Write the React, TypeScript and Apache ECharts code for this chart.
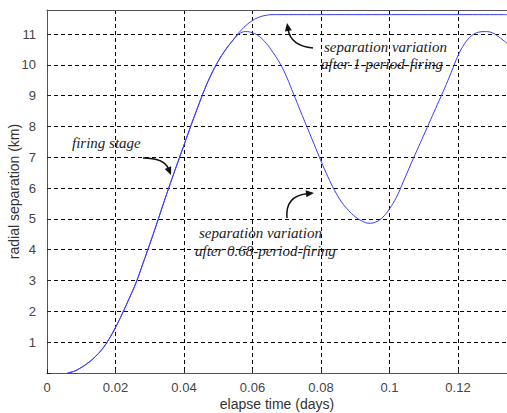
import React, { useEffect, useRef } from "react";
import * as echarts from "echarts";

// shared firing-stage rise (both curves)
const riseX = [0.006, 0.008, 0.01, 0.012, 0.014, 0.016, 0.018, 0.02, 0.022, 0.024, 0.026, 0.028, 0.03, 0.032, 0.034, 0.036, 0.038, 0.04, 0.042, 0.044, 0.046, 0.048, 0.05, 0.052, 0.054];
const riseY = [0, 0.06, 0.18, 0.33, 0.52, 0.76, 1.08, 1.48, 1.93, 2.42, 2.93, 3.55, 4.18, 4.83, 5.5, 6.15, 6.78, 7.4, 8.02, 8.62, 9.2, 9.7, 10.12, 10.47, 10.76];

// after 1-period firing
const fullX = [0.056, 0.058, 0.06, 0.062, 0.064, 0.066, 0.068, 0.1343];
const fullY = [11.04, 11.27, 11.44, 11.55, 11.61, 11.63, 11.63, 11.63];

// after 0.68-period firing
const partX = [0.056, 0.058, 0.06, 0.062, 0.064, 0.066, 0.068, 0.07, 0.072, 0.074, 0.076, 0.078, 0.08, 0.082, 0.084, 0.086, 0.088, 0.09, 0.092, 0.094, 0.096, 0.098, 0.1, 0.102, 0.104, 0.106, 0.108, 0.11, 0.112, 0.114, 0.116, 0.118, 0.12, 0.122, 0.124, 0.126, 0.128, 0.13, 0.132, 0.1343];
const partY = [11.0, 11.08, 11.04, 10.92, 10.7, 10.4, 10.05, 9.6, 9.05, 8.5, 7.96, 7.42, 6.88, 6.37, 5.92, 5.55, 5.28, 5.07, 4.93, 4.86, 4.9, 5.05, 5.33, 5.7, 6.2, 6.72, 7.22, 7.72, 8.22, 8.72, 9.22, 9.75, 10.3, 10.7, 10.95, 11.06, 11.08, 11.04, 10.9, 10.7];

const xMin = 0;
const xMax = 0.1343;
const xStep = 0.02;
const yMin = 0;
const yMax = 11.78;
const yStep = 1;

const annotations = [
  { text: "firing stage", x: 72, y: 143 },
  { text: "separation variation", x: 324, y: 47 },
  { text: "after 1-period-firing", x: 321, y: 64 },
  { text: "separation variation", x: 199, y: 233 },
  { text: "after 0.68-period-firing", x: 195, y: 251 },
];

function zip(xs: number[], ys: number[]) {
  return xs.map((x, i) => [x, ys[i]]);
}

function arrow(tail: number[], cp: number[], tip: number[]) {
  const dx = tip[0] - cp[0];
  const dy = tip[1] - cp[1];
  const len = Math.sqrt(dx * dx + dy * dy) || 1;
  const ux = dx / len;
  const uy = dy / len;
  const L = 8;
  const W = 3.5;
  const bx = tip[0] - ux * L;
  const by = tip[1] - uy * L;
  return [
    {
      type: "bezierCurve",
      shape: { x1: tail[0], y1: tail[1], cpx1: cp[0], cpy1: cp[1], x2: bx + ux * 1, y2: by + uy * 1 },
      style: { stroke: "#111", lineWidth: 1.5, fill: null },
      silent: true,
    },
    {
      type: "polygon",
      shape: {
        points: [
          [tip[0], tip[1]],
          [bx - uy * W, by + ux * W],
          [bx + uy * W, by - ux * W],
        ],
      },
      style: { fill: "#111" },
      silent: true,
    },
  ];
}

export default function App() {
  const ref = useRef<HTMLDivElement>(null);
  useEffect(() => {
    if (!ref.current) return;
    const chart = echarts.init(ref.current, undefined, { renderer: "svg" });
    const fmtX = (v: number) => {
      const k = Math.round(v / xStep);
      if (Math.abs(v - k * xStep) > 1e-6) return "";
      return String(parseFloat((k * xStep).toFixed(2)));
    };
    const fmtY = (v: number) => {
      const k = Math.round(v);
      if (Math.abs(v - k) > 1e-6 || k < 1) return "";
      return String(k);
    };
    const graphics: any[] = [];
    annotations.forEach((a) => {
      graphics.push({
        type: "text",
        x: a.x,
        y: a.y,
        silent: true,
        style: {
          text: a.text,
          fill: "#222",
          font: 'italic 15px "Liberation Serif"',
          fontStyle: "italic",
          fontSize: 15,
          fontFamily: "Liberation Serif",
          textAlign: "left",
          textVerticalAlign: "middle",
          align: "left",
          verticalAlign: "middle",
        },
      });
    });
    graphics.push(...arrow([143, 158], [164, 158], [171, 175]));
    graphics.push(...arrow([313, 48], [291, 46], [287, 23]));
    graphics.push(...arrow([287, 218], [285, 196], [314, 193]));

    chart.setOption({
      animation: false,
      backgroundColor: "#ffffff",
      grid: { left: 47, top: 10, right: 0, bottom: 40, containLabel: false, outerBoundsMode: "none" },
      xAxis: [
        {
          type: "value",
          position: "bottom",
          min: xMin,
          max: xMax,
          interval: xStep,
          name: "elapse time (days)",
          nameLocation: "middle",
          nameGap: 24,
          nameMoveOverlap: false,
          nameTextStyle: { fontSize: 14, color: "#333", fontFamily: "Liberation Sans" },
          axisLine: { show: true, lineStyle: { color: "#555", width: 1 } },
          axisTick: { show: true, inside: true, length: 4, lineStyle: { color: "#222" } },
          axisLabel: { fontSize: 13, color: "#444", margin: 8, fontFamily: "Liberation Sans", formatter: fmtX, showMaxLabel: false },
          splitLine: { show: true, lineStyle: { color: "#000", type: [4, 3], width: 1 } },
        },
        {
          type: "value",
          position: "top",
          min: xMin,
          max: xMax,
          interval: xStep,
          axisLine: { show: true, onZero: false, lineStyle: { color: "#555", width: 1 } },
          axisTick: { show: false },
          axisLabel: { show: false },
          splitLine: { show: false },
        },
      ],
      yAxis: {
        type: "value",
        min: yMin,
        max: yMax,
        interval: yStep,
        name: "radial separation (km)",
        nameLocation: "middle",
        nameGap: 26,
        nameMoveOverlap: false,
        nameTextStyle: { fontSize: 14, color: "#333", fontFamily: "Liberation Sans" },
        axisLine: { show: true, lineStyle: { color: "#555", width: 1 } },
        axisTick: { show: true, inside: true, length: 4, lineStyle: { color: "#222" } },
        axisLabel: { fontSize: 13, color: "#444", margin: 11, fontFamily: "Liberation Sans", formatter: fmtY, showMaxLabel: false },
        splitLine: { show: true, lineStyle: { color: "#000", type: [4, 3], width: 1 } },
      },
      series: [
        {
          type: "line",
          name: "after 1-period firing",
          data: zip(riseX.concat(fullX), riseY.concat(fullY)),
          showSymbol: false,
          smooth: 0.4,
          lineStyle: { color: "#3a3aff", width: 1 },
          itemStyle: { color: "#3a3aff" },
          clip: true,
        },
        {
          type: "line",
          name: "after 0.68-period firing",
          data: zip(riseX.concat(partX), riseY.concat(partY)),
          showSymbol: false,
          smooth: 0.4,
          lineStyle: { color: "#3a3aff", width: 1 },
          itemStyle: { color: "#3a3aff" },
          clip: true,
        },
      ],
      graphic: graphics,
    });
    return () => chart.dispose();
  }, []);
  return (
    <div
      ref={ref}
      style={{ position: "fixed", left: 0, top: 0, width: 507, height: 413, background: "#fff" }}
    />
  );
}
